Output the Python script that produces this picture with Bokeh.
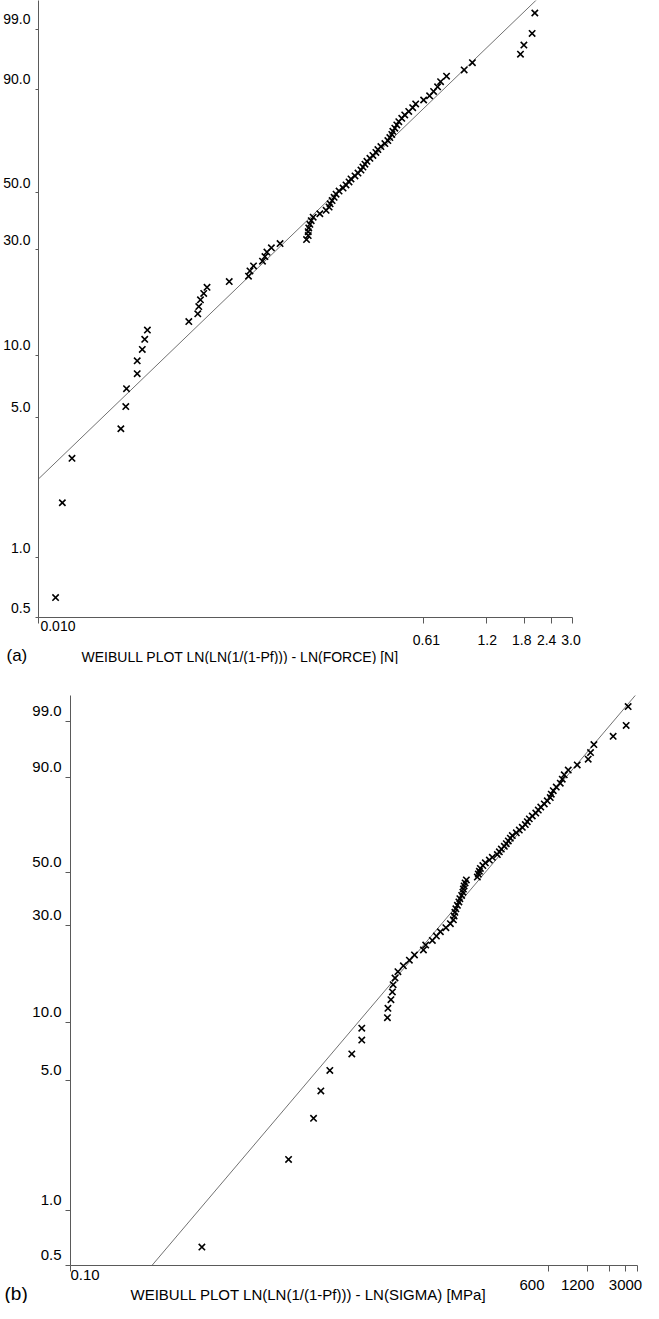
import numpy as np
from bokeh.plotting import figure
from bokeh.models import (FixedTicker, LinearAxis, LogAxis, Title,
                          CustomJSTickFormatter, Range1d)
from bokeh.embed import file_html
from bokeh.resources import INLINE

FONT = "Liberation Sans"
NBSP = "\u00a0"

# Failure probability Pf in percent (same specimens in both panels)
FAILURE_PROB_PCT = [
    0.63, 1.88, 3.13, 4.38, 5.63, 6.88, 8.13, 9.38, 10.63, 11.88,
    13.13, 14.38, 15.63, 16.88, 18.13, 19.38, 20.63, 21.88, 23.13, 24.38,
    25.63, 26.88, 28.13, 29.38, 30.63, 31.88, 33.13, 34.38, 35.63, 36.88,
    38.13, 39.38, 40.63, 41.88, 43.13, 44.38, 45.63, 46.88, 48.13, 49.38,
    50.63, 51.88, 53.13, 54.38, 55.63, 56.88, 58.13, 59.38, 60.63, 61.88,
    63.13, 64.38, 65.63, 66.88, 68.13, 69.38, 70.63, 71.88, 73.13, 74.38,
    75.63, 76.88, 78.13, 79.38, 80.63, 81.88, 83.13, 84.38, 85.63, 86.88,
    88.13, 89.38, 90.63, 91.88, 93.13, 94.38, 95.63, 96.85, 97.85, 98.77, 99.62]

# (a) failure force [N]
FORCE_N = [
    0.0120, 0.0129, 0.0143, 0.0241, 0.0254, 0.0256, 0.0287, 0.0287, 0.0303, 0.0311,
    0.0320, 0.0498, 0.0548, 0.0554, 0.0564, 0.0584, 0.0605, 0.0767, 0.0942, 0.0957,
    0.0994, 0.1094, 0.1123, 0.1147, 0.1203, 0.1320, 0.1751, 0.1783, 0.1783, 0.1793,
    0.1815, 0.1841, 0.1880, 0.2019, 0.2159, 0.2229, 0.2253, 0.2301, 0.2351, 0.2401,
    0.2479, 0.2587, 0.2670, 0.2757, 0.2816, 0.2939, 0.3034, 0.3132, 0.3199, 0.3268,
    0.3338, 0.3447, 0.3559, 0.3674, 0.3753, 0.3875, 0.4043, 0.4174, 0.4264, 0.4355,
    0.4402, 0.4497, 0.4593, 0.4692, 0.4843, 0.4999, 0.5217, 0.5443, 0.5619, 0.6117,
    0.6520, 0.6804, 0.7100, 0.7330, 0.7813, 0.9431, 1.030, 1.721, 1.785, 1.949, 2.006]

# (b) failure stress [MPa]
SIGMA_MPA = [
    1.09, 5.27, 8.30, 9.48, 11.16, 16.64, 19.95, 19.95, 31.8, 32.1,
    33.9, 34.8, 35.3, 36.5, 38.5, 42.5, 47.4, 52.0, 61.2, 63.8,
    72.0, 77.5, 83.3, 92.1, 99.9, 105.5, 106.9, 108.4, 110.4, 113.5,
    116.6, 118.7, 122.7, 125.4, 126.5, 128.2, 130.5, 133.6, 163.1, 166.1,
    169.2, 172.3, 180.3, 188.6, 202.9, 214.2, 234.6, 243.3, 252.3, 266.4,
    276.2, 286.4, 297.1, 308.0, 331.2, 349.8, 369.4, 390.1, 404.5, 419.5,
    442.9, 472.0, 494.0, 516.9, 550.8, 581.6, 614.2, 625.5, 648.6, 685.0,
    736.6, 763.8, 792.1, 851.8, 1003, 1224, 1277, 1358, 1927, 2441, 2531]

Y_TICK_PCT = [0.5, 1.0, 5.0, 10.0, 30.0, 50.0, 90.0, 99.0]
Y_TICK_LABELS = ["0.5", "1.0", "5.0", "10.0", "30.0", "50.0", "90.0", "99.0"]

# tick marks on the x axes
X_TICKS_A = [0.010, 0.61, 1.2, 1.8, 2.4, 3.0]
X_TICKS_B = [0.10, 600, 1200, 1800, 2400, 3000]
# tick labels (the first one sits raised next to the axis corner)
X_FIRST_LABEL_A = "0.010"
X_FIRST_LABEL_B = "0.10"
X_LABEL_TICKS_A = [0.61, 1.2, 1.8, 2.4, 3.0]
X_LABELS_A = ["0.61", "1.2", "1.8", "2.4", "3.0"]
X_LABEL_TICKS_B = [600, 1200, 3000]
X_LABELS_B = ["600", "1200", "3000"]

# fitted Weibull lines: (modulus, scale)
FIT_A = (1.045, 0.341)
FIT_B = (0.814, 294.0)

TITLE_A = "WEIBULL PLOT LN(LN(1/(1-Pf))) - LN(FORCE) [N]"
TITLE_B = "WEIBULL PLOT LN(LN(1/(1-Pf))) - LN(SIGMA) [MPa]"


def weibull(p_pct):
    p = np.asarray(p_pct, dtype=float) / 100.0
    return np.log(-np.log(1.0 - p))


LOOKUP_CODE = """
let best = 0, bd = Infinity;
for (let i = 0; i < tv.length; i++) {
  const d = Math.abs(tv[i] - tick);
  if (d < bd) { bd = d; best = i; }
}
return lab[best];
"""


def lookup_formatter(tv, lab):
    return CustomJSTickFormatter(args=dict(tv=list(tv), lab=list(lab)), code=LOOKUP_CODE)


def make_panel(xvals, xr, ytop, fit, cfg):
    W, H = cfg["W"], cfg["H"]
    left, right, top, bottom = cfg["border"]
    ybot = float(weibull([0.5])[0])
    p = figure(width=W, height=H, x_axis_type="log",
               x_range=Range1d(*xr), y_range=Range1d(ybot, ytop),
               output_backend="svg", toolbar_location=None, title=None,
               min_border_left=left, min_border_right=right,
               min_border_top=top, min_border_bottom=bottom)
    p.grid.visible = False
    p.outline_line_color = None
    p.background_fill_color = "white"
    p.border_fill_color = "white"
    fs = cfg["fs"]
    axis_col = "#5a5a5a"
    frame_h = H - top - bottom
    frame_w = W - left - right
    px_per_ln = frame_w / np.log(xr[1] / xr[0])

    # inner y axis: tick marks at the true probability positions
    ya = p.yaxis[0]
    ya.ticker = FixedTicker(ticks=[float(v) for v in weibull(Y_TICK_PCT)])
    ya.formatter = CustomJSTickFormatter(code="return ''")
    ya.major_tick_out = cfg["ytick"]
    ya.major_tick_in = 0
    ya.major_label_standoff = 0
    ya.axis_line_color = axis_col
    ya.major_tick_line_color = axis_col
    ya.minor_tick_line_color = None

    # outer y axis: labels, drawn a little above their ticks as in the original
    shift = cfg["yshift_px"] * (ytop - ybot) / frame_h
    tv = [float(v) + shift for v in weibull(Y_TICK_PCT)]
    yb = LinearAxis(ticker=FixedTicker(ticks=tv), formatter=lookup_formatter(tv, Y_TICK_LABELS),
                    axis_line_color=None, major_tick_line_color=None, minor_tick_line_color=None,
                    major_tick_out=0, major_tick_in=0,
                    major_label_standoff=cfg["ystandoff"],
                    major_label_text_font=FONT, major_label_text_font_size=fs,
                    major_label_text_color="black")
    p.add_layout(yb, "left")

    # inner x axis: tick marks + the raised first label next to the corner
    xa = p.xaxis[0]
    xt = cfg["xticks"]
    first = NBSP * cfg["first_pad"] + cfg["first_label"]
    xa.ticker = FixedTicker(ticks=xt)
    xa.formatter = lookup_formatter(xt, [first] + [""] * (len(xt) - 1))
    xa.major_tick_out = 6
    xa.major_tick_in = 0
    xa.major_label_standoff = -6
    xa.major_label_text_font = FONT
    xa.major_label_text_font_size = fs
    xa.major_label_text_color = "black"
    xa.axis_line_color = axis_col
    xa.major_tick_line_color = axis_col
    xa.minor_tick_line_color = None

    # outer x axis: the remaining tick labels
    lpos = [float(t * np.exp(n / px_per_ln)) for t, n in zip(cfg["lticks"], cfg["lnudge"])]
    xb = LogAxis(ticker=FixedTicker(ticks=lpos), formatter=lookup_formatter(lpos, cfg["labels"]),
                 axis_line_color=None, major_tick_line_color=None, minor_tick_line_color=None,
                 major_tick_out=0, major_tick_in=0,
                 major_label_standoff=cfg["x2standoff"],
                 major_label_text_font=FONT, major_label_text_font_size=fs,
                 major_label_text_color="black")
    p.add_layout(xb, "below")

    # panel tag "(a)"/"(b)" and the axis title share one line
    p.add_layout(Title(text=cfg["tag"], align="left", offset=cfg["tag_offset"],
                       vertical_align="middle", standoff=cfg["tag_standoff"],
                       text_font=FONT, text_font_size=cfg["tag_fs"], text_font_style="normal",
                       text_color="black"), "below")
    p.add_layout(Title(text=cfg["title"], align="left", offset=cfg["title_offset"],
                       vertical_align="top", standoff=cfg["title_standoff"],
                       text_font=FONT, text_font_size=fs, text_font_style="normal",
                       text_color="black"), "below")

    # fitted line
    m, x0 = fit
    lx = np.array(xr, dtype=float)
    p.line(lx, m * np.log(lx / x0), line_color="#4d4d4d", line_width=0.8)

    # data
    p.scatter(xvals, weibull(FAILURE_PROB_PCT), marker="x", size=9,
              line_color="black", line_width=1.6)
    return p


cfg_a = dict(W=643, H=664, border=(36, 71, 0, 47), fs="14px", ytick=3,
             ystandoff=5, yshift_px=10,
             xticks=X_TICKS_A, first_label=X_FIRST_LABEL_A, first_pad=10,
             lticks=X_LABEL_TICKS_A, labels=X_LABELS_A, lnudge=[3, 0.5, -3, -5, -1.5],
             x2standoff=-2,
             tag="(a)", tag_fs="17px", tag_offset=-32, tag_standoff=-5,
             title=TITLE_A, title_offset=43, title_standoff=-30)
cfg_b = dict(W=643, H=639, border=(70, 6, 31, 38), fs="15px", ytick=5,
             ystandoff=4, yshift_px=10.5,
             xticks=X_TICKS_B, first_label=X_FIRST_LABEL_B, first_pad=7,
             lticks=X_LABEL_TICKS_B, labels=X_LABELS_B, lnudge=[-17, -9.5, -12],
             x2standoff=-6,
             tag="(b)", tag_fs="19px", tag_offset=-66, tag_standoff=-22,
             title=TITLE_B, title_offset=60, title_standoff=-15)

pa = make_panel(FORCE_N, (0.01, 3.0), 1.863, FIT_A, cfg_a)
pb = make_panel(SIGMA_MPA, (0.1, 3000.0), 1.857, FIT_B, cfg_b)

# two independent roots, stacked, so that their plot frames are not aligned
open("out.html", "w").write(file_html([pa, pb], INLINE))
